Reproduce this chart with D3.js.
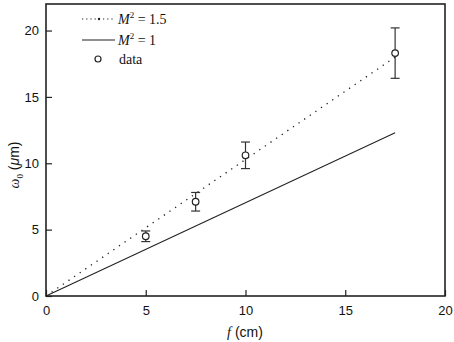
<!DOCTYPE html>
<html><head><meta charset="utf-8">
<script src="https://cdn.jsdelivr.net/npm/d3@7"></script>
<style>body{margin:0;background:#fff}</style>
</head><body><svg id="c" width="454" height="342"></svg>
<script>
const fData = [5, 7.5, 10, 17.5];
const wData = [4.5, 7.1, 10.6, 18.3];
const errData = [0.4, 0.7, 1.0, 1.9];
const lineM15 = [[0, 0], [17.5, 18.0]];
const lineM1 = [[0, 0], [17.5, 12.3]];
const xTicks = [0, 5, 10, 15, 20];
const yTicks = [0, 5, 10, 15, 20];

const svg = d3.select("#c");
const L = 46, R = 445, T = 4, B = 296;
const x = d3.scaleLinear().domain([0, 20]).range([L, R]);
const y = d3.scaleLinear().domain([0, 22]).range([B, T]);
const col = "#222";

const xa = svg.append("g").attr("transform", `translate(0,${B})`)
  .call(d3.axisBottom(x).tickValues(xTicks).tickSizeInner(-6).tickSizeOuter(0).tickPadding(10));
const ya = svg.append("g").attr("transform", `translate(${L},0)`)
  .call(d3.axisLeft(y).tickValues(yTicks).tickSizeInner(-6).tickSizeOuter(0).tickPadding(7));
[xa, ya].forEach(a => {
  a.select(".domain").remove();
  a.selectAll("line").attr("stroke", col).attr("stroke-width", 1.2);
  a.selectAll("text").attr("font-family", "Liberation Sans, Arial, sans-serif").attr("font-size", 13).attr("fill", "#111");
});

svg.append("rect").attr("x", L).attr("y", T).attr("width", R - L).attr("height", B - T)
  .attr("fill", "none").attr("stroke", col).attr("stroke-width", 1.6);

const line = d3.line().x(d => x(d[0])).y(d => y(d[1]));
svg.append("path").attr("d", line(lineM15)).attr("fill", "none").attr("stroke", col)
  .attr("stroke-width", 1.3).attr("stroke-dasharray", "1.3,5.5");
svg.append("path").attr("d", line(lineM1)).attr("fill", "none").attr("stroke", col).attr("stroke-width", 1.1);

const pts = fData.map((f, i) => ({f, w: wData[i], e: errData[i]}));
const g = svg.append("g");
pts.forEach(p => {
  const cx = x(p.f);
  g.append("line").attr("x1", cx).attr("x2", cx).attr("y1", y(p.w + p.e)).attr("y2", y(p.w - p.e)).attr("stroke", "#333").attr("stroke-width", 1.2);
  [p.w + p.e, p.w - p.e].forEach(v => g.append("line").attr("x1", cx - 4.5).attr("x2", cx + 4.5).attr("y1", y(v)).attr("y2", y(v)).attr("stroke", "#333").attr("stroke-width", 1.2));
  g.append("circle").attr("cx", cx).attr("cy", y(p.w)).attr("r", 3.3).attr("fill", "#fff").attr("stroke", "#222").attr("stroke-width", 1.2);
});

// legend
const serif = "Liberation Serif, Times New Roman, serif";
const lg = svg.append("g");
lg.append("line").attr("x1", 82).attr("x2", 115).attr("y1", 19).attr("y2", 19).attr("stroke", col).attr("stroke-width", 1.2).attr("stroke-dasharray", "1.2,3");
lg.append("circle").attr("cx", 99).attr("cy", 19).attr("r", 1.2).attr("fill", col);
lg.append("line").attr("x1", 82).attr("x2", 115).attr("y1", 40).attr("y2", 40).attr("stroke", col).attr("stroke-width", 1.1);
lg.append("circle").attr("cx", 98).attr("cy", 59).attr("r", 3).attr("fill", "#fff").attr("stroke", col).attr("stroke-width", 1.2);
function mlabel(yy, val) {
  const t = lg.append("text").attr("x", 118).attr("y", yy).attr("font-family", serif).attr("font-size", 14).attr("fill", "#111");
  t.append("tspan").attr("font-style", "italic").text("M");
  t.append("tspan").attr("font-size", 9).attr("dy", -6).text("2");
  t.append("tspan").attr("dy", 6).text(" = " + val);
}
mlabel(24, "1.5");
mlabel(45, "1");
lg.append("text").attr("x", 119).attr("y", 64).attr("font-family", serif).attr("font-size", 14).attr("fill", "#111").text("data");

// axis titles
const xt = svg.append("text").attr("x", 245).attr("y", 337).attr("text-anchor", "middle").attr("font-size", 14).attr("fill", "#111");
xt.append("tspan").attr("font-family", serif).attr("font-style", "italic").text("f");
xt.append("tspan").attr("font-family", "Liberation Sans, Arial, sans-serif").text("  (cm)");

const yt = svg.append("text").attr("transform", "translate(19,165) rotate(-90)").attr("text-anchor", "middle").attr("font-size", 14).attr("fill", "#111");
yt.append("tspan").attr("font-family", serif).attr("font-style", "italic").text("ω");
yt.append("tspan").attr("font-family", serif).attr("font-size", 9).attr("dy", 4).text("0");
yt.append("tspan").attr("dy", -4).attr("font-family", "Liberation Sans, Arial, sans-serif").text(" (");
yt.append("tspan").attr("font-family", "Liberation Sans, Arial, sans-serif").attr("font-style", "italic").text("μ");
yt.append("tspan").attr("font-family", "Liberation Sans, Arial, sans-serif").text("m)");
</script></body></html>
